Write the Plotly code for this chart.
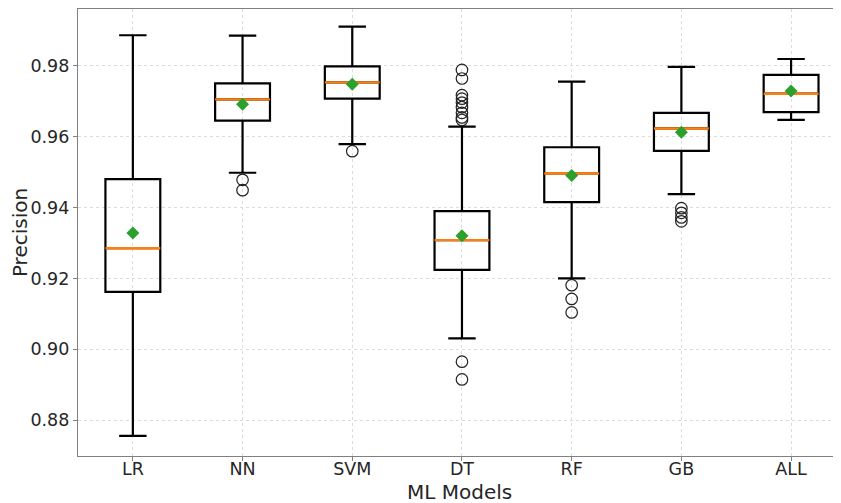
import plotly.graph_objects as go

models = ["LR", "NN", "SVM", "DT", "RF", "GB", "ALL"]
positions = [1, 2, 3, 4, 5, 6, 7]
lower_whisker = [0.8756, 0.9498, 0.9579, 0.9031, 0.9200, 0.9438, 0.9647]
q1 = [0.9162, 0.9645, 0.9707, 0.9224, 0.9415, 0.9560, 0.9669]
median = [0.9285, 0.9705, 0.9753, 0.9308, 0.9496, 0.9623, 0.9721]
q3 = [0.9480, 0.9750, 0.9798, 0.9390, 0.9570, 0.9667, 0.9774]
upper_whisker = [0.9886, 0.9885, 0.9910, 0.9628, 0.9755, 0.9797, 0.9819]
mean = [0.9328, 0.9691, 0.9748, 0.9320, 0.9490, 0.9612, 0.9729]
outliers = {
    "LR": [],
    "NN": [0.9478, 0.9449],
    "SVM": [0.9559],
    "DT": [0.9788, 0.9764, 0.9717, 0.9707, 0.9696, 0.9683, 0.9667, 0.9654, 0.9647, 0.8965, 0.8915],
    "RF": [0.9181, 0.9142, 0.9104],
    "GB": [0.9398, 0.9385, 0.9372, 0.9361],
    "ALL": [],
}
tick_vals = [0.88, 0.90, 0.92, 0.94, 0.96, 0.98]
tick_text = ["0.88", "0.90", "0.92", "0.94", "0.96", "0.98"]

box_width = 0.5
fig = go.Figure()

for i, m in enumerate(models):
    p = positions[i]
    fig.add_trace(go.Box(
        x=[p], q1=[q1[i]], median=[median[i]], q3=[q3[i]],
        lowerfence=[lower_whisker[i]], upperfence=[upper_whisker[i]],
        width=box_width, whiskerwidth=0.5,
        line=dict(color="black", width=2.2),
        fillcolor="rgba(255,255,255,0)",
        boxpoints=False, showlegend=False, hoverinfo="skip",
    ))
    fig.add_trace(go.Scatter(
        x=[p - box_width / 2, p + box_width / 2], y=[median[i], median[i]],
        mode="lines", line=dict(color="#ff7f0e", width=2.4),
        showlegend=False, hoverinfo="skip",
    ))
    if outliers[m]:
        fig.add_trace(go.Scatter(
            x=[p] * len(outliers[m]), y=outliers[m], mode="markers",
            marker=dict(symbol="circle-open", size=11.5, color="#222222",
                        line=dict(width=1.2, color="#222222")),
            showlegend=False, hoverinfo="skip",
        ))

fig.add_trace(go.Scatter(
    x=positions, y=mean, mode="markers",
    marker=dict(symbol="diamond", size=10, color="#2ca02c"),
    showlegend=False, hoverinfo="skip",
))

font_family = "DejaVu Sans"
fig.update_layout(
    width=841, height=503,
    margin=dict(l=70, r=8, t=1, b=55),
    plot_bgcolor="white", paper_bgcolor="white",
    font=dict(family=font_family, color="#262626"),
    xaxis=dict(
        range=[0.5, 7.455],
        tickmode="array", tickvals=positions, ticktext=models,
        tickfont=dict(size=17.5, family=font_family, color="#262626"),
        showgrid=True, gridcolor="#dcdcdc", griddash="dot", gridwidth=1,
        showline=True, linecolor="#808080", linewidth=1.3, mirror=True,
        ticks="outside", ticklen=4, tickcolor="#808080",
        ticklabelstandoff=-7,
        zeroline=False,
        automargin=False,
    ),
    yaxis=dict(
        range=[0.8699, 0.9960],
        tickmode="array", tickvals=tick_vals, ticktext=tick_text,
        tickfont=dict(size=17.5, family=font_family, color="#262626"),
        showgrid=True, gridcolor="#dcdcdc", griddash="dot", gridwidth=1,
        showline=True, linecolor="#808080", linewidth=1.3, mirror=False,
        ticks="outside", ticklen=4, tickcolor="#808080",
        zeroline=False,
        title=dict(text="Precision", font=dict(size=20, family=font_family, color="#262626"), standoff=6),
        automargin=False,
    ),
    annotations=[dict(
        text="ML Models", xref="paper", yref="paper", x=0.5, y=-0.080,
        xanchor="center", yanchor="middle", showarrow=False,
        font=dict(size=20, family=font_family, color="#262626"),
    )],
)

fig.write_html("out.html")
